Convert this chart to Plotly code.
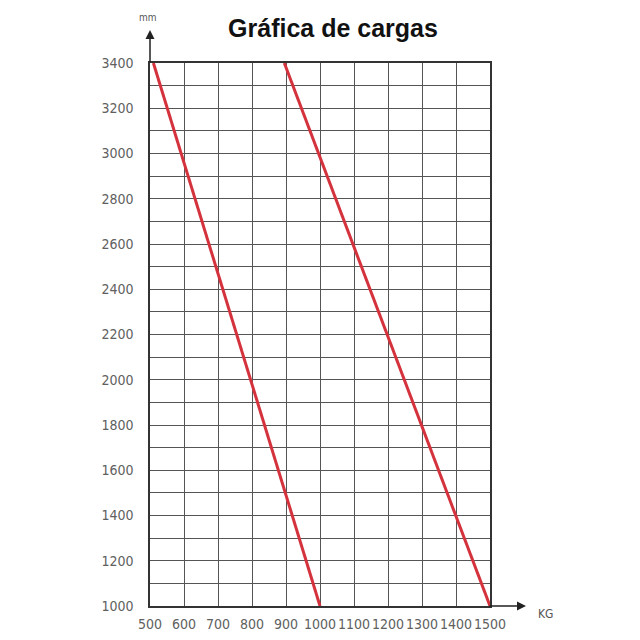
import plotly.graph_objects as go

# Data
load_small_kg = [510, 1000]
load_small_mm = [3400, 1000]
load_large_kg = [895, 1500]
load_large_mm = [3400, 1000]

x_ticks = list(range(500, 1501, 100))
y_ticks = list(range(1000, 3401, 200))

red = "#d4323c"
grid = "#555555"
narrow = "Liberation Sans Narrow, DejaVu Sans Condensed, Arial Narrow, sans-serif"
tick_font = dict(family=narrow, size=14, color="#606060")

fig = go.Figure()
fig.add_trace(go.Scatter(x=load_small_kg, y=load_small_mm, mode="lines",
                         line=dict(color=red, width=3), showlegend=False, hoverinfo="skip"))
fig.add_trace(go.Scatter(x=load_large_kg, y=load_large_mm, mode="lines",
                         line=dict(color=red, width=3), showlegend=False, hoverinfo="skip"))

fig.update_layout(
    width=640, height=640,
    margin=dict(l=142, r=158, t=55, b=42, autoexpand=False),
    paper_bgcolor="white", plot_bgcolor="white",
    title=dict(text="<b>Gráfica de cargas</b>", x=(333 - 8) / 640, xanchor="center",
               y=1 - (28 - 8) / 640, yanchor="middle",
               font=dict(family="Liberation Sans, Arial, sans-serif", size=25, color="#111111")),
    xaxis=dict(range=[500, 1500], tickvals=x_ticks, ticktext=[str(v) for v in x_ticks],
               showgrid=True, gridcolor=grid, gridwidth=1.3, zeroline=False,
               showline=True, linecolor="#333333", linewidth=1.5, mirror=True,
               ticks="", ticklabelstandoff=4, tickangle=0, automargin=False,
               tickfont=tick_font, fixedrange=True),
    yaxis=dict(range=[1000, 3400], tickvals=y_ticks, ticktext=[str(v) for v in y_ticks],
               showgrid=True, gridcolor=grid, gridwidth=1.3, zeroline=False,
               minor=dict(dtick=100, tick0=1000, showgrid=True, gridcolor=grid, gridwidth=1.3),
               showline=True, linecolor="#333333", linewidth=1.5, mirror=True,
               ticks="", ticklabelstandoff=12, automargin=False,
               tickfont=tick_font, fixedrange=True),
    annotations=[
        dict(xref="paper", yref="paper", x=1 + 36/340, y=0, ax=-38, ay=0,
             axref="pixel", ayref="pixel", text="", showarrow=True,
             arrowhead=2, arrowsize=1.2, arrowwidth=1.5, arrowcolor="#222222"),
        dict(xref="paper", yref="paper", x=0, y=1 + 33/543, ax=0, ay=34,
             axref="pixel", ayref="pixel", text="", showarrow=True,
             arrowhead=2, arrowsize=1.2, arrowwidth=1.5, arrowcolor="#222222"),
        dict(xref="paper", yref="paper", x=1 + 55/340, y=0, yshift=-8, text="KG", showarrow=False,
             xanchor="center", yanchor="middle",
             font=dict(family=narrow, size=12, color="#555555")),
        dict(xref="paper", yref="paper", x=-2/340, y=1 + 46/543, text="mm", showarrow=False,
             xanchor="center", yanchor="middle",
             font=dict(family=narrow, size=10, color="#555555")),
    ],
)

fig.write_html("out.html")
